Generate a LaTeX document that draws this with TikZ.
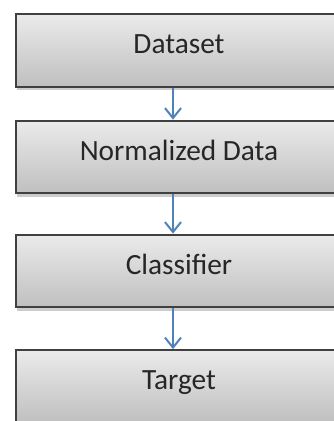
\documentclass[tikz,border=0pt]{standalone}
\usepackage{fontspec}
\setmainfont{Carlito}
\usetikzlibrary{arrows.meta,shadows}
\definecolor{flowblue}{HTML}{4F81BD}
\tikzset{
  stage/.style={draw=black!75, line width=1.5pt, top color=black!8, bottom color=black!25,
    minimum width=244pt, minimum height=54.5pt, inner sep=0pt,
    text height=15pt, text depth=9.8pt, font=\fontsize{22}{26}\selectfont, text=black!85,
    drop shadow={shadow xshift=0.8pt, shadow yshift=-2.5pt, opacity=0.4}},
  flow/.style={draw=flowblue, line width=1.5pt, -{Straight Barb[length=7.5pt,width=12pt,line width=1.5pt]}}
}
\begin{document}
\begin{tikzpicture}[x=0.75pt, y=-0.75pt]
            \useasboundingbox (0,0) rectangle (334,421);
            \clip (0,0) rectangle (334,421);
            \node[stage] (dataset) at (179, 50.5) {Dataset};
            \node[stage] (normdata) at (179, 157) {Normalized Data};
            \node[stage] (classifier) at (179, 271) {Classifier};
            \node[stage] (target) at (179, 386.5) {Target};
            \draw[flow] ([xshift=-4.5pt]dataset.south) -- ([xshift=-4.5pt]normdata.north);
            \draw[flow] ([xshift=-4.5pt]normdata.south) -- ([xshift=-4.5pt]classifier.north);
            \draw[flow] ([xshift=-4.5pt]classifier.south) -- ([xshift=-4.5pt]target.north);
        \end{tikzpicture}
\end{document}
